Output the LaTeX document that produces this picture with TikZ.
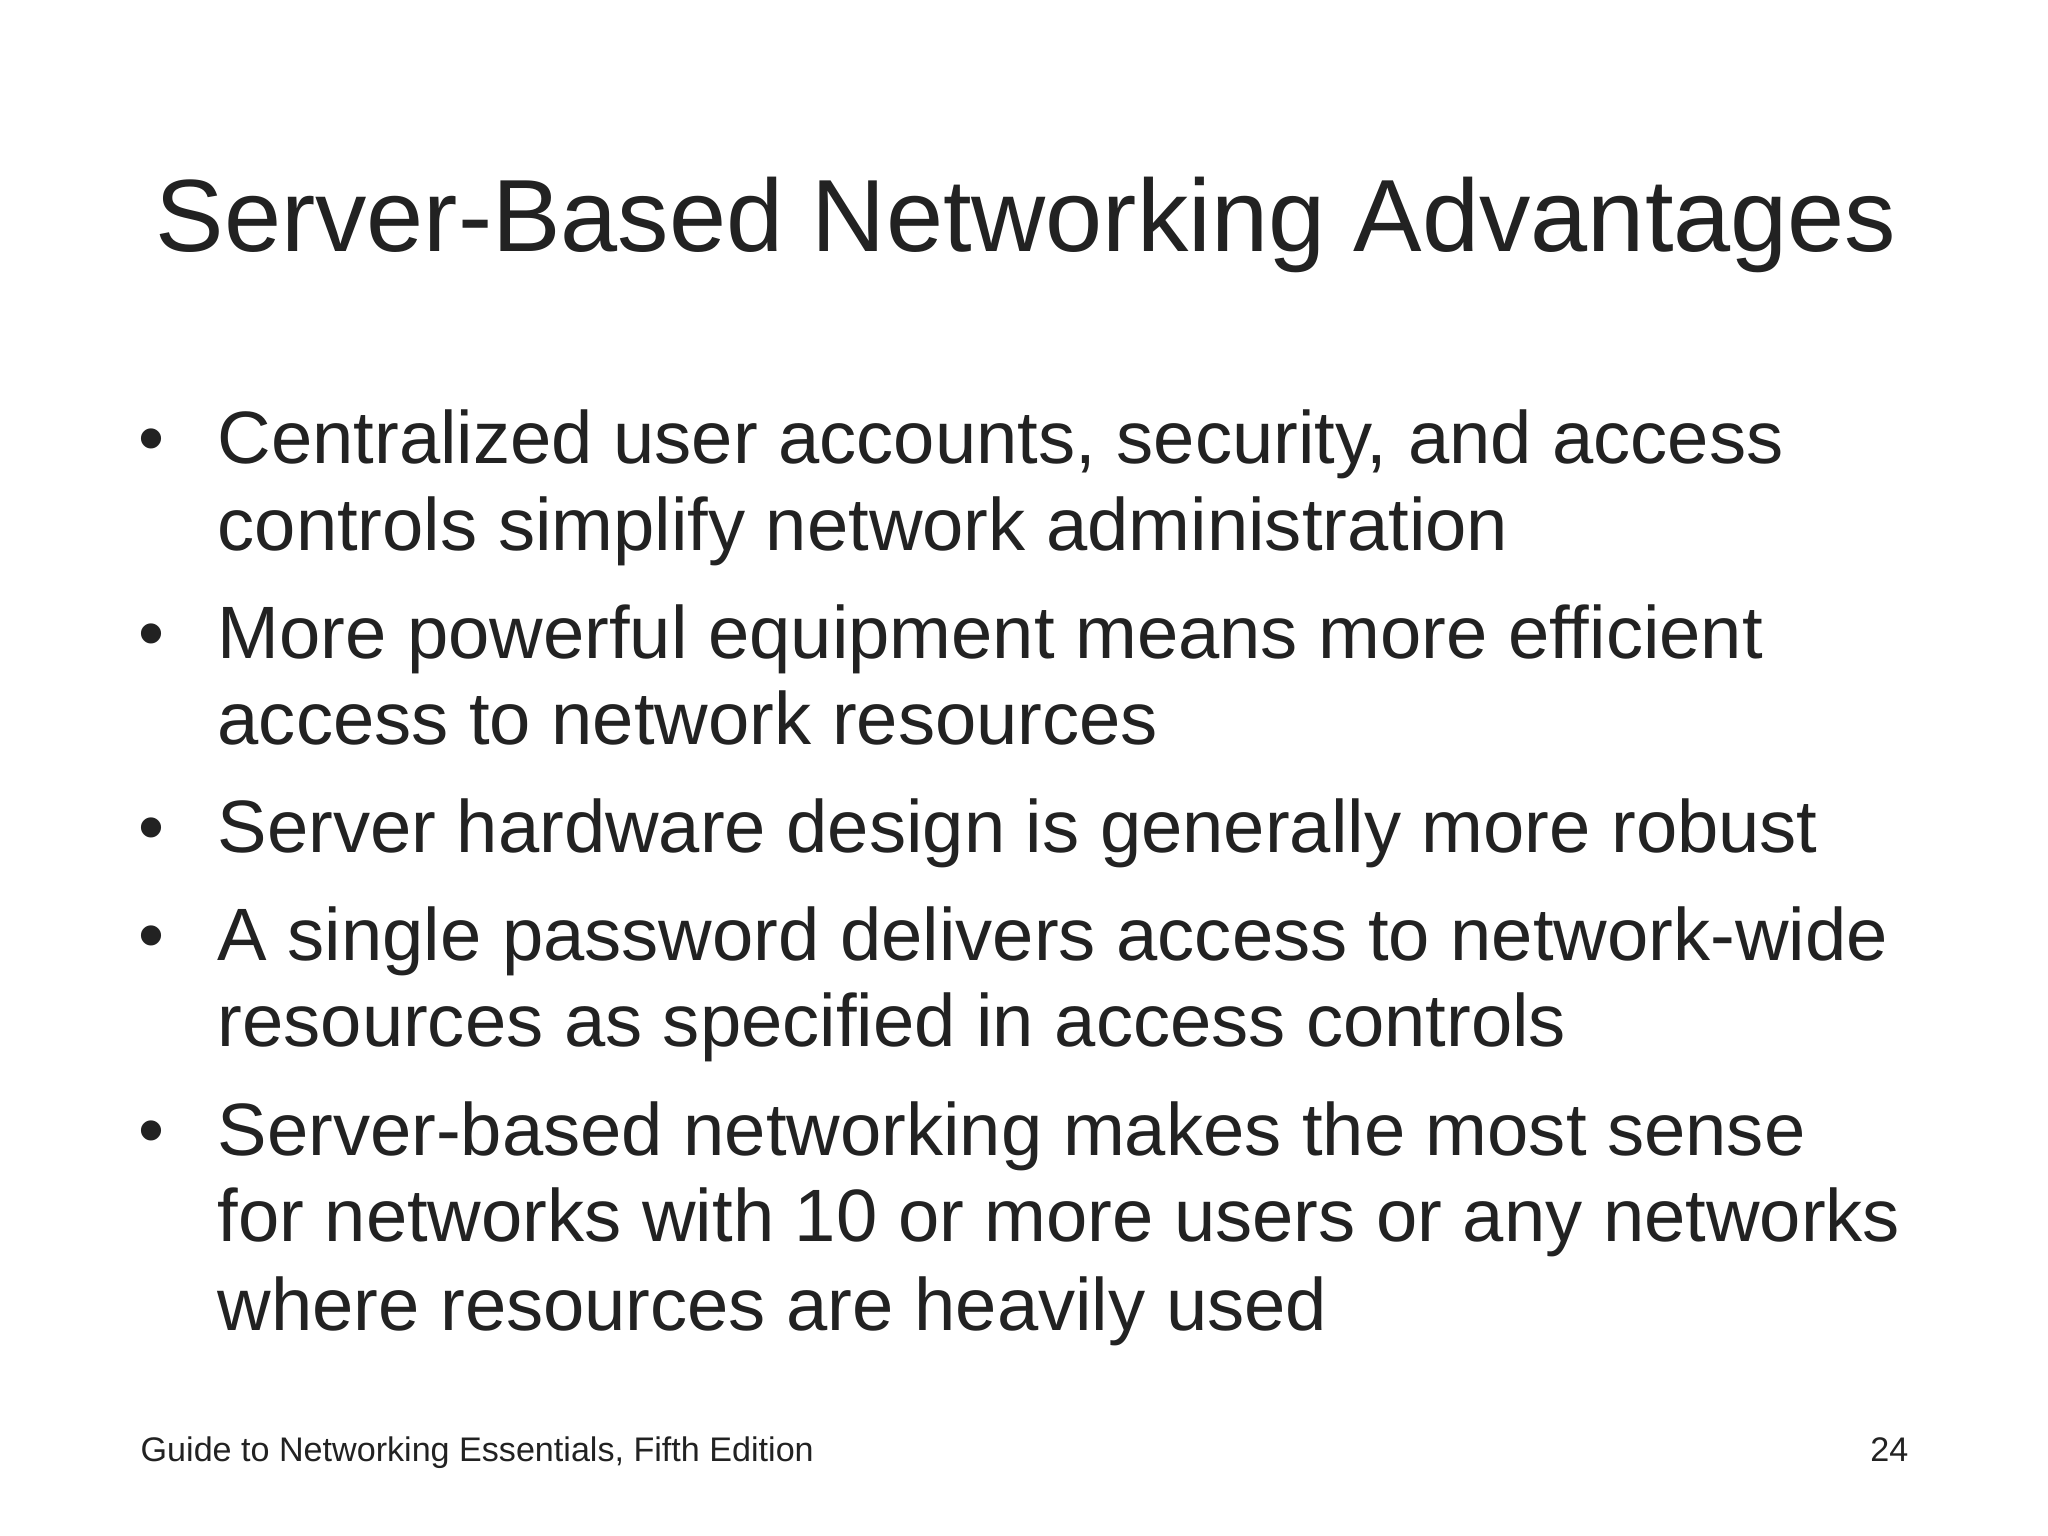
\documentclass[tikz,border=0pt]{standalone}
\usepackage{fontspec}
\setmainfont{Liberation Sans}
\definecolor{txt}{HTML}{222222}
\begin{document}
\begin{tikzpicture}[x=0.01cm,y=-0.01cm,
  ln/.style={anchor=base west,inner sep=0pt,text=txt,font=\fontsize{21.1pt}{26pt}\selectfont},
  bul/.style={anchor=base west,inner sep=0pt,text=txt,font=\fontsize{21.1pt}{26pt}\selectfont},
  ttl/.style={anchor=base west,inner sep=0pt,text=txt,font=\fontsize{29.2pt}{34pt}\selectfont},
  ft/.style={inner sep=0pt,text=txt,font=\fontsize{9.7pt}{12pt}\selectfont}]
\useasboundingbox[fill=white] (0,0) rectangle (2048,1536);
\node[ttl] (t) at (155,251) {Server-Based Networking Advantages};
\node[bul] (b1) at (138,463) {•};
\node[ln] (l1) at (217,463) {Centralized user accounts, security, and access};
\node[ln] (l2) at (217,550) {controls simplify network administration};
\node[bul] (b2) at (138,658) {•};
\node[ln] (l3) at (217,658) {More powerful equipment means more efficient};
\node[ln] (l4) at (217,744) {access to network resources};
\node[bul] (b3) at (138,852) {•};
\node[ln] (l5) at (217,852) {Server hardware design is generally more robust};
\node[bul] (b4) at (138,960) {•};
\node[ln] (l6) at (217,960) {A single password delivers access to network-wide};
\node[ln] (l7) at (217,1046) {resources as specified in access controls};
\node[bul] (b5) at (138,1155) {•};
\node[ln] (l8) at (217,1155) {Server-based networking makes the most sense};
\node[ln] (l9) at (217,1241) {for networks with 10 or more users or any networks};
\node[ln] (l10) at (217,1330) {where resources are heavily used};
\node[ft,anchor=base west] (f1) at (140,1461) {Guide to Networking Essentials, Fifth Edition};
\node[ft,anchor=base east] (f2) at (1909,1461) {24};
\end{tikzpicture}
\end{document}
